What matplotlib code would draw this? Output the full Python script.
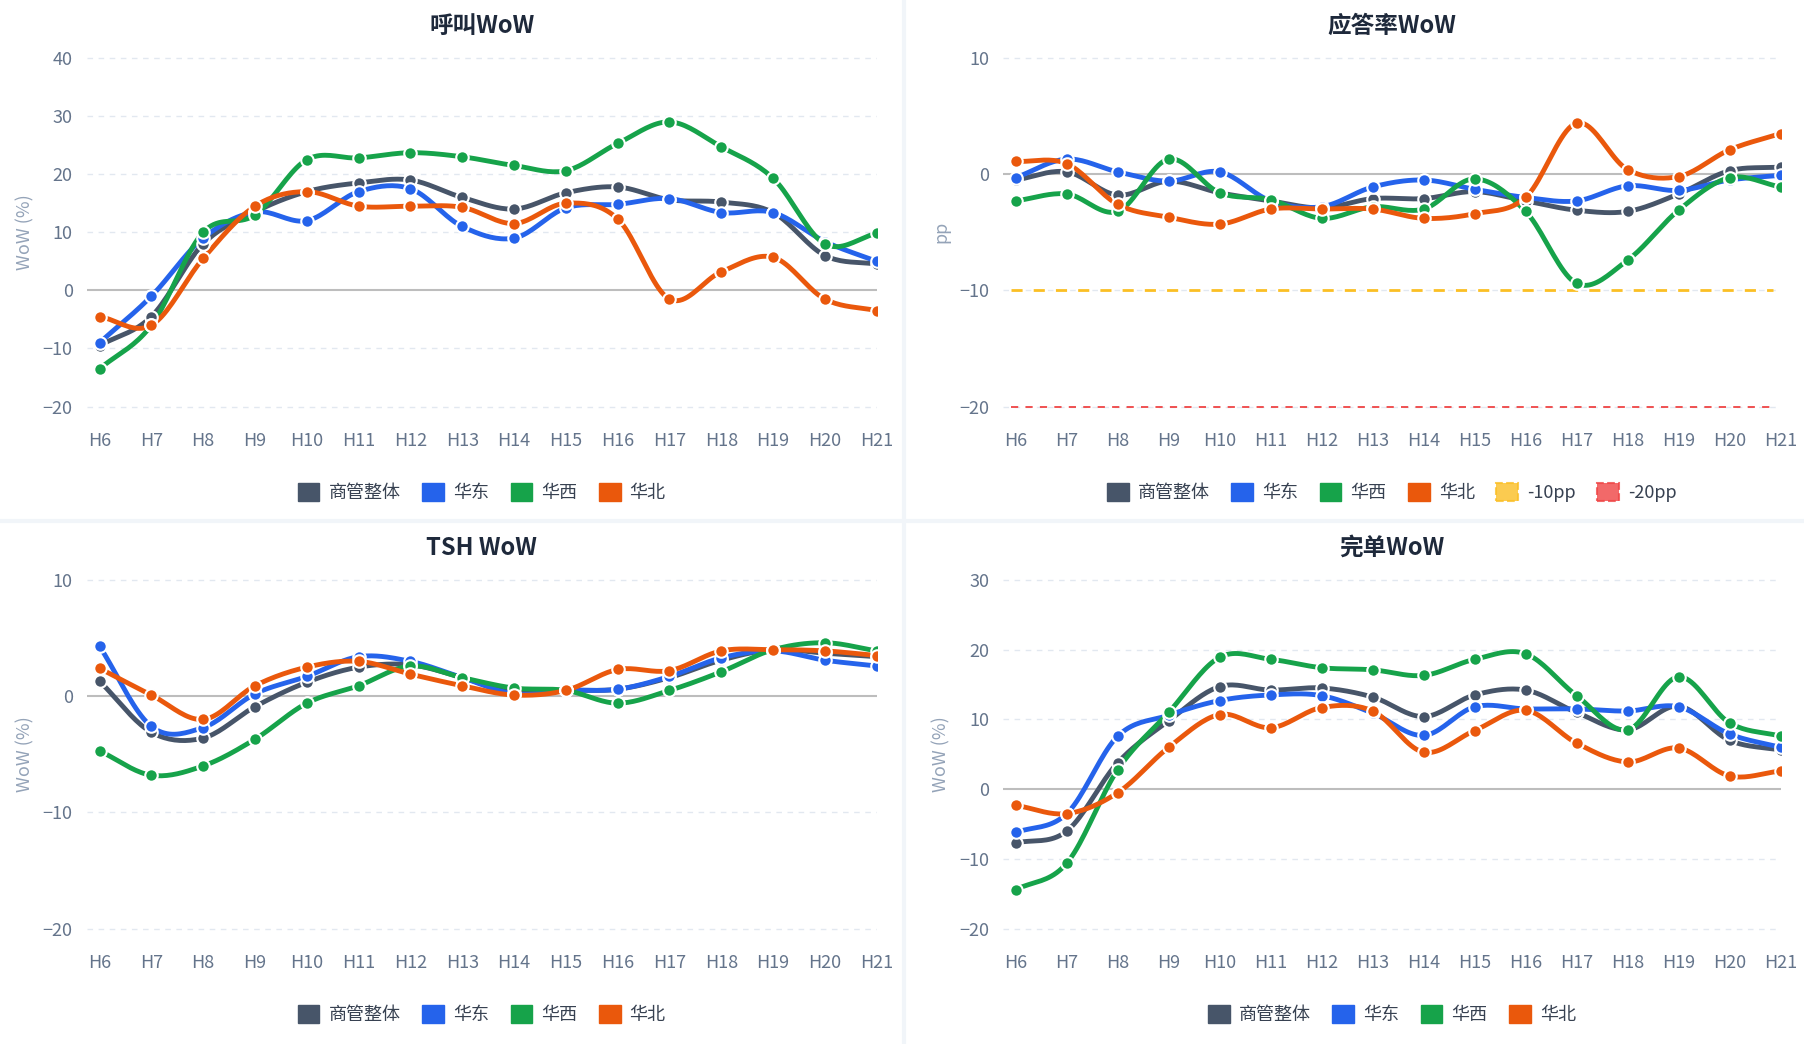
#!/usr/bin/env python3

import numpy as np
import matplotlib
matplotlib.use("Agg")
import matplotlib.pyplot as plt
from matplotlib.patches import Patch

plt.rcParams['font.family'] = ['Noto Sans CJK SC', 'DejaVu Sans']

#-------------------------------------------------------------
# data
hours = ["H%d" % h for h in range(6, 22)]
series_names = ["商管整体", "华东", "华西", "华北"]
series_colors = ["#475569", "#2563eb", "#16a34a", "#ea580c"]

call_total = [-9.5, -4.5, 8, 13.5, 17, 18.5, 19, 16, 14, 16.8, 17.8, 15.6, 15.2, 13.4, 6, 4.5]
call_east = [-9, -1, 9, 13.5, 12, 17, 17.5, 11, 9, 14.2, 14.8, 15.8, 13.4, 13.4, 8.4, 5]
call_west = [-13.5, -6, 10, 13, 22.5, 22.8, 23.7, 23, 21.5, 20.6, 25.3, 29, 24.7, 19.3, 8, 9.8]
call_north = [-4.5, -6, 5.5, 14.5, 17, 14.5, 14.5, 14.3, 11.5, 15, 12.3, -1.5, 3.2, 5.7, -1.5, -3.5]

ans_total = [-0.5, 0.2, -1.8, -0.6, -1.6, -2.3, -2.9, -2.1, -2.1, -1.5, -2.3, -3.1, -3.2, -1.7, 0.3, 0.6]
ans_east = [-0.3, 1.3, 0.2, -0.6, 0.2, -2.3, -2.8, -1.1, -0.5, -1.3, -2.0, -2.3, -1.0, -1.4, -0.5, -0.1]
ans_west = [-2.3, -1.7, -3.2, 1.3, -1.6, -2.2, -3.8, -2.8, -3.0, -0.4, -3.2, -9.4, -7.4, -3.1, -0.3, -1.1]
ans_north = [1.1, 0.9, -2.6, -3.7, -4.3, -3.0, -3.0, -3.0, -3.8, -3.4, -2.0, 4.4, 0.4, -0.2, 2.1, 3.5]

tsh_total = [1.3, -3.1, -3.6, -0.9, 1.2, 2.5, 2.7, 1.6, 0.3, 0.5, 0.6, 1.6, 3.1, 4.0, 3.7, 3.4]
tsh_east = [4.3, -2.6, -2.7, 0.2, 1.7, 3.4, 3.0, 1.6, 0.2, 0.5, 0.6, 1.7, 3.3, 3.9, 3.1, 2.6]
tsh_west = [-4.7, -6.8, -6.0, -3.7, -0.6, 0.9, 2.6, 1.6, 0.7, 0.5, -0.6, 0.5, 2.1, 4.0, 4.6, 3.9]
tsh_north = [2.4, 0.1, -2.0, 0.9, 2.5, 3.0, 1.9, 0.9, 0.1, 0.5, 2.3, 2.2, 3.9, 4.0, 3.9, 3.5]

done_total = [-7.7, -6, 3.8, 9.8, 14.7, 14.2, 14.5, 13.2, 10.4, 13.5, 14.2, 11, 8.5, 11.9, 7, 5.6]
done_east = [-6.2, -3.5, 7.6, 10.6, 12.7, 13.5, 13.4, 10.9, 7.7, 11.8, 11.5, 11.5, 11.2, 11.8, 7.9, 6]
done_west = [-14.4, -10.6, 2.8, 11, 18.9, 18.6, 17.4, 17.1, 16.3, 18.6, 19.4, 13.4, 8.5, 16.1, 9.5, 7.6]
done_north = [-2.3, -3.5, -0.5, 6, 10.7, 8.8, 11.7, 11.2, 5.3, 8.4, 11.3, 6.6, 3.9, 5.9, 1.9, 2.6]

thresholds = [-10, -20]
threshold_names = ["-10pp", "-20pp"]
threshold_colors = ["#fbbf24", "#ef4444"]

#-------------------------------------------------------------
def smooth(y, n=20):
    """ Catmull-Rom curve through the points, for drawing only """
    y = np.asarray(y, dtype=float)
    x = np.arange(len(y), dtype=float)
    p = np.concatenate([[2*y[0]-y[1]], y, [2*y[-1]-y[-2]]])
    xs, ys = [], []
    for i in range(len(y)-1):
        t = np.linspace(0, 1, n, endpoint=False)
        p0, p1, p2, p3 = p[i], p[i+1], p[i+2], p[i+3]
        seg = 0.5*((2*p1) + (-p0+p2)*t + (2*p0-5*p1+4*p2-p3)*t**2
                   + (-p0+3*p1-3*p2+p3)*t**3)
        xs.append(x[i] + t)
        ys.append(seg)
    xs.append([x[-1]])
    ys.append([y[-1]])
    return np.concatenate(xs), np.concatenate(ys)

#-------------------------------------------------------------
def panel(ax, title, data, ylim, ticks, ylabel, extra=False):
    x = np.arange(len(hours))
    for grid in ticks:
        if grid != 0:
            ax.axhline(grid, color="#e2e8f0", lw=1, ls=(0, (4, 4)), zorder=0)
    ax.axhline(0, color="#bdbdbd", lw=1.5, zorder=1)
    handles = []
    for vals, name, col in zip(data, series_names, series_colors):
        sx, sy = smooth(vals)
        ax.plot(sx, sy, color=col, lw=3.5, zorder=3)
        ax.plot(x, vals, "o", color=col, ms=9, mec="white", mew=1.5, zorder=4)
        handles.append(Patch(facecolor=col, edgecolor=col, label=name))
    if extra:
        for th, name, col in zip(thresholds, threshold_names, threshold_colors):
            ax.axhline(th, xmin=0.01, xmax=0.99, color=col, lw=2 if th == -10 else 1.3,
                       ls=(0, (4, 4)), zorder=2)
            handles.append(Patch(facecolor=col, edgecolor=col, alpha=0.8,
                                 ls="--", lw=1.5, label=name))
    ax.set_xlim(-0.25, len(hours)-1)
    ax.set_ylim(*ylim)
    ax.set_yticks(ticks)
    ax.set_xticks(x)
    ax.set_xticklabels(hours)
    for s in ax.spines.values():
        s.set_visible(False)
    ax.tick_params(axis="both", colors="#64748b", labelsize=13, length=0, pad=10)
    ax.tick_params(axis="x", pad=14)
    ax.set_ylabel(ylabel, color="#94a3b8", fontsize=13, labelpad=6)
    ax.set_title(title, fontsize=17, fontweight="bold", color="#1e293b", pad=14)
    ax.legend(handles=handles, loc="upper center", bbox_to_anchor=(0.5, -0.15),
              ncol=len(handles), frameon=False, fontsize=13, handlelength=1.2,
              handleheight=1.2, columnspacing=1.2, handletextpad=0.5,
              labelcolor="#374151")

#-------------------------------------------------------------
def main():
    fig = plt.figure(figsize=(18.04, 10.44), dpi=100)
    fig.patch.set_facecolor("white")

    ax1 = fig.add_axes([0.048, 0.605, 0.438, 0.345])
    ax2 = fig.add_axes([0.556, 0.605, 0.431, 0.345])
    ax3 = fig.add_axes([0.048, 0.105, 0.438, 0.345])
    ax4 = fig.add_axes([0.556, 0.105, 0.431, 0.345])

    panel(ax1, "呼叫WoW", [call_total, call_east, call_west, call_north],
          (-21, 41), [-20, -10, 0, 10, 20, 30, 40], "WoW (%)")
    panel(ax2, "应答率WoW", [ans_total, ans_east, ans_west, ans_north],
          (-20.5, 10.5), [-20, -10, 0, 10], "pp", extra=True)
    panel(ax3, "TSH WoW", [tsh_total, tsh_east, tsh_west, tsh_north],
          (-20.5, 10.5), [-20, -10, 0, 10], "WoW (%)")
    panel(ax4, "完单WoW", [done_total, done_east, done_west, done_north],
          (-20.8, 30.8), [-20, -10, 0, 10, 20, 30], "WoW (%)")

    # separators between the panels
    fig.add_artist(plt.Line2D([0.501, 0.501], [0, 1], color="#f1f5f9", lw=3))
    fig.add_artist(plt.Line2D([0, 1], [0.501, 0.501], color="#f1f5f9", lw=3))

    fig.savefig("out.png", dpi=100)
    plt.close(fig)

#-------------------------------------------------------------
if __name__ == "__main__":
    main()
